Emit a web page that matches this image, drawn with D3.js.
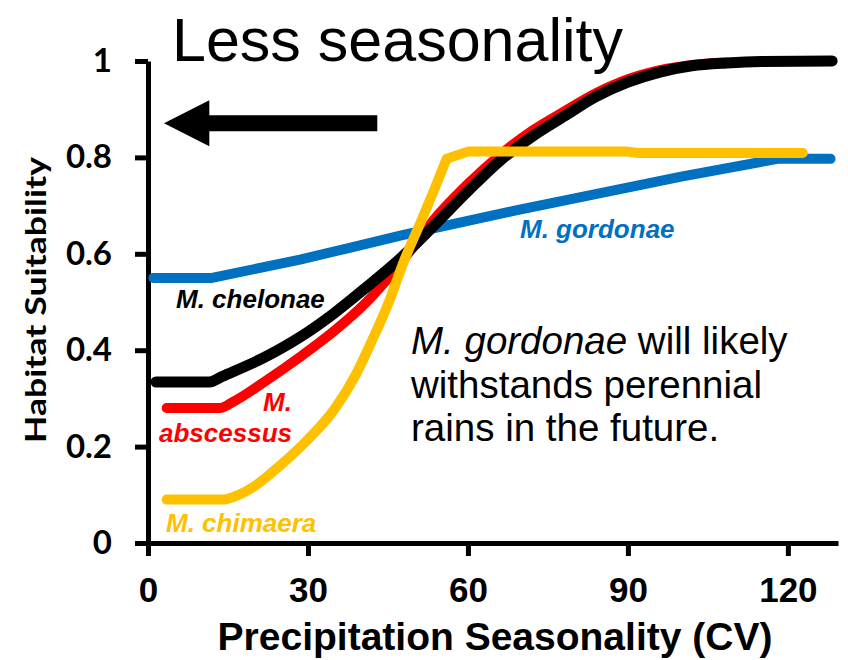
<!DOCTYPE html>
<html>
<head>
<meta charset="utf-8">
<script src="https://cdn.jsdelivr.net/npm/d3@7"></script>
<style>
  html, body { margin: 0; padding: 0; background: #fff; }
  svg { display: block; }
</style>
</head>
<body>
<svg id="chart" width="848" height="660"></svg>
<script>
// Habitat suitability response curves vs. precipitation seasonality (CV)
const xTicks = [0, 30, 60, 90, 120];
const yTicks = [0, 0.2, 0.4, 0.6, 0.8, 1];

// [CV, suitability] pairs for each species
const gordonae = [[1, 0.55], [12, 0.55], [28.5, 0.588], [38, 0.613], [47.5, 0.638], [69, 0.69], [100, 0.76], [118, 0.797], [128, 0.797]];
const abscessus = [[3.5, 0.28], [13.5, 0.28], [16, 0.293], [22.3, 0.338], [28.5, 0.386], [34.7, 0.438], [41, 0.5], [46, 0.562], [50, 0.618], [53.4, 0.668], [60, 0.745], [66, 0.805], [72, 0.855], [78, 0.895], [84, 0.933], [90, 0.962], [96, 0.981], [102, 0.992], [108.5, 0.997]];
const chelonae = [[1.5, 0.334], [11.5, 0.334], [14, 0.346], [22, 0.386], [28.5, 0.427], [34.7, 0.475], [41, 0.531], [47.3, 0.59], [53.4, 0.656], [60, 0.73], [66, 0.793], [72, 0.843], [78, 0.885], [84, 0.926], [90, 0.956], [96, 0.977], [102, 0.99], [108.5, 0.996], [115, 0.999], [128.3, 1.0]];
// rising part (smooth) and plateau (straight) of the chimaera curve
const chimaeraRise = [[3.5, 0.09], [13.9, 0.09], [17, 0.1], [20, 0.118], [25, 0.163], [30, 0.215], [35, 0.278], [39, 0.35], [42, 0.42], [45, 0.495], [48, 0.585], [51, 0.662], [53.5, 0.728], [56, 0.797]];
const chimaeraPlateau = [[56, 0.797], [60, 0.812], [90, 0.812], [92, 0.809], [122.8, 0.809]];

const seriesColors = { gordonae: "#0070C0", abscessus: "#FF0000", chelonae: "#000000", chimaera: "#FFC000" };

const svg = d3.select("#chart");
svg.append("rect").attr("width", 848).attr("height", 660).attr("fill", "#fff");

const x = d3.scaleLinear().domain([0, 129.4]).range([148, 838]);
const y = d3.scaleLinear().domain([0, 1]).range([543, 61]);

// Axes
const yAxis = d3.axisLeft(y).tickValues(yTicks).tickSize(13).tickSizeOuter(0).tickPadding(23)
  .tickFormat(d => (d === 0 || d === 1) ? String(d) : d.toFixed(1));
const gy = svg.append("g").attr("transform", `translate(${x(0)},0)`).call(yAxis);

const xAxis = d3.axisBottom(x).tickValues(xTicks).tickSize(13).tickSizeOuter(0).tickPadding(21);
const gx = svg.append("g").attr("transform", `translate(0,${y(0)})`).call(xAxis);

[gx, gy].forEach(g => {
  g.select(".domain").attr("stroke", "#000").attr("stroke-width", 5);
  g.selectAll(".tick line").attr("stroke", "#000").attr("stroke-width", 5);
});
gy.selectAll(".tick text")
  .attr("font-family", "Lato, 'Open Sans', sans-serif")
  .attr("font-weight", "bold").attr("font-size", 33).attr("fill", "#000");
gx.selectAll(".tick text")
  .attr("font-family", "'Liberation Sans', Arial, sans-serif")
  .attr("font-weight", "bold").attr("font-size", 35).attr("fill", "#000");

// Axis titles
svg.append("text")
  .attr("transform", "translate(46,300) rotate(-90)")
  .attr("text-anchor", "middle")
  .attr("font-family", "Lato, 'Open Sans', sans-serif")
  .attr("font-weight", "bold").attr("font-size", 29)
  .attr("textLength", 286).attr("lengthAdjust", "spacingAndGlyphs")
  .text("Habitat Suitability");

svg.append("text")
  .attr("x", 495).attr("y", 650)
  .attr("text-anchor", "middle")
  .attr("font-family", "'Liberation Sans', Arial, sans-serif")
  .attr("font-weight", "bold").attr("font-size", 39)
  .text("Precipitation Seasonality (CV)");

// Title
svg.append("text")
  .attr("x", 172).attr("y", 61)
  .attr("font-family", "'Liberation Sans', Arial, sans-serif")
  .attr("font-size", 61)
  .text("Less seasonality");

// Direction arrow (pointing toward lower seasonality)
const arrowTip = [3, 0.871], arrowHeadBase = 11.5, arrowTail = 43;
const ay = y(arrowTip[1]);
svg.append("path")
  .attr("d", [
    "M", x(arrowTip[0]), ay,
    "L", x(arrowHeadBase), ay - 23,
    "L", x(arrowHeadBase), ay - 8,
    "L", x(arrowTail), ay - 8,
    "L", x(arrowTail), ay + 8,
    "L", x(arrowHeadBase), ay + 8,
    "L", x(arrowHeadBase), ay + 23, "Z"].join(" "))
  .attr("fill", "#000");

// Curves
const smooth = d3.line().x(d => x(d[0])).y(d => y(d[1])).curve(d3.curveMonotoneX);
const straight = d3.line().x(d => x(d[0])).y(d => y(d[1])).curve(d3.curveLinear);
const drawOrder = [
  ["gordonae", straight(gordonae), 10],
  ["abscessus", smooth(abscessus), 10],
  ["chelonae", smooth(chelonae), 11],
  ["chimaera", smooth(chimaeraRise) + straight(chimaeraPlateau), 10]
];
svg.append("g").selectAll("path").data(drawOrder).join("path")
  .attr("d", d => d[1])
  .attr("fill", "none")
  .attr("stroke", d => seriesColors[d[0]])
  .attr("stroke-width", d => d[2])
  .attr("stroke-linecap", "round")
  .attr("stroke-linejoin", "round");

// Species labels
const labelFont = "'Liberation Sans', Arial, sans-serif";
function speciesLabel(px, py, txt, color, anchor) {
  svg.append("text")
    .attr("x", px).attr("y", py)
    .attr("text-anchor", anchor || "start")
    .attr("font-family", labelFont)
    .attr("font-weight", "bold").attr("font-style", "italic")
    .attr("font-size", 26)
    .attr("fill", color)
    .text(txt);
}
speciesLabel(176, 308, "M. chelonae", seriesColors.chelonae);
speciesLabel(292, 411, "M.", seriesColors.abscessus, "end");
speciesLabel(292, 442, "abscessus", seriesColors.abscessus, "end");
speciesLabel(166, 532, "M. chimaera", seriesColors.chimaera);
speciesLabel(520, 238, "M. gordonae", seriesColors.gordonae);

// Annotation
const note = svg.append("text")
  .attr("font-family", "'Liberation Sans', Arial, sans-serif")
  .attr("font-size", 38.5).attr("fill", "#000");
const l1 = note.append("tspan").attr("x", 411).attr("y", 354);
l1.append("tspan").attr("font-style", "italic").text("M. gordonae");
l1.append("tspan").text(" will likely");
note.append("tspan").attr("x", 411).attr("y", 398).text("withstands perennial");
note.append("tspan").attr("x", 411).attr("y", 441).text("rains in the future.");
</script>
</body>
</html>
